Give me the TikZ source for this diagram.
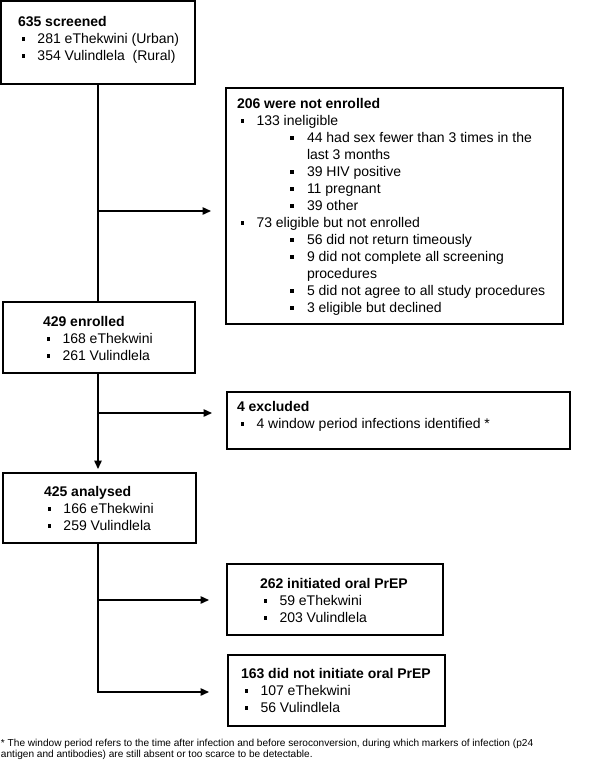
\documentclass[tikz,border=0pt]{standalone}
\usepackage{fontspec}
\setmainfont{Liberation Sans}
\usetikzlibrary{arrows.meta,calc}
\newcommand\bsq{\rule[2.5pt]{3.9pt}{3.9pt}}
\newcommand\la[1]{\hspace*{3.5pt}\makebox[16pt][l]{\bsq}#1}
\newcommand\lb[1]{\hspace*{53pt}\makebox[17pt][l]{\bsq}#1}
\newcommand\lc[1]{\hspace*{70pt}#1}
\newcommand\boxtext[1]{\parbox[t]{340pt}{\fontsize{14}{17}\selectfont\raggedright #1}}
\begin{document}
\begin{tikzpicture}[x=1pt,y=-1pt,
  flowbox/.style={draw=black, line width=1.5pt, inner sep=0pt, outer sep=0pt, anchor=north west},
  txt/.style={inner sep=0pt, outer sep=0pt, anchor=base west},
  conn/.style={line width=1.4pt, black},
  arr/.style={conn, -{Triangle[length=8.5pt,width=7.5pt]}}]
\useasboundingbox (0,0) rectangle (600,769);
% boxes
\node[flowbox, minimum width=194pt, minimum height=83pt] (b1) at (1,1) {};
\node[flowbox, minimum width=337pt, minimum height=236pt] (b2) at (226,88) {};
\node[flowbox, minimum width=192pt, minimum height=71pt] (b3) at (3,302) {};
\node[flowbox, minimum width=343pt, minimum height=57pt] (b4) at (227,392) {};
\node[flowbox, minimum width=193pt, minimum height=70pt] (b5) at (3,473) {};
\node[flowbox, minimum width=216pt, minimum height=71pt] (b6) at (227,564) {};
\node[flowbox, minimum width=217pt, minimum height=71pt] (b7) at (228,655) {};
% texts
\node[txt] (t1) at ($(b1.north west)+(17,25)$) {\boxtext{\textbf{635 screened}\\
  \la{281 eThekwini (Urban)}\\
  \la{354 Vulindlela\ \ (Rural)}}};
\node[txt] (t2) at ($(b2.north west)+(11,20)$) {\boxtext{\textbf{206 were not enrolled}\\
  \la{133 ineligible}\\
  \lb{44 had sex fewer than 3 times in the}\\
  \lc{last 3 months}\\
  \lb{39 HIV positive}\\
  \lb{11 pregnant}\\
  \lb{39 other}\\
  \la{73 eligible but not enrolled}\\
  \lb{56 did not return timeously}\\
  \lb{9 did not complete all screening}\\
  \lc{procedures}\\
  \lb{5 did not agree to all study procedures}\\
  \lb{3 eligible but declined}}};
\node[txt] (t3) at ($(b3.north west)+(40,24)$) {\boxtext{\textbf{429 enrolled}\\
  \la{168 eThekwini}\\
  \la{261 Vulindlela}}};
\node[txt] (t4) at ($(b4.north west)+(10,19)$) {\boxtext{\textbf{4 excluded}\\
  \la{4 window period infections identified *}}};
\node[txt] (t5) at ($(b5.north west)+(41,23)$) {\boxtext{\textbf{425 analysed}\\
  \la{166 eThekwini}\\
  \la{259 Vulindlela}}};
\node[txt] (t6) at ($(b6.north west)+(33,24)$) {\boxtext{\textbf{262 initiated oral PrEP}\\
  \la{59 eThekwini}\\
  \la{203 Vulindlela}}};
\node[txt] (t7) at ($(b7.north west)+(13,23)$) {\boxtext{\textbf{163 did not initiate oral PrEP}\\
  \la{107 eThekwini}\\
  \la{56 Vulindlela}}};
% footnote
\node[txt] (fn) at (1,746) {\parbox[t]{600pt}{\fontsize{10.1}{11.5}\selectfont\raggedright
  * The window period refers to the time after infection and before seroconversion, during which markers of infection (p24\\
  antigen and antibodies) are still absent or too scarce to be detectable.}};
% connectors
\coordinate (sp) at (98,0);
\coordinate (j1) at (98,211);
\coordinate (j2) at (98,413);
\coordinate (j3) at (98,600);
\coordinate (j4) at (98,692);
\draw[conn] (b1.south -| sp) -- (b3.north -| sp);
\draw[arr, shorten >=15pt] (j1) -- (j1 -| b2.west);
\draw[conn] (b3.south -| sp) -- (j2);
\draw[arr, shorten >=4pt] (j2) -- (b5.north -| sp);
\draw[arr, shorten >=15pt] (j2) -- (j2 -| b4.west);
\draw[conn] (b5.south -| sp) -- (j3);
\draw[arr, shorten >=18pt] (j3) -- (j3 -| b6.west);
\draw[arr, shorten >=19pt] (j3) -- (j4) -- (j4 -| b7.west);
\end{tikzpicture}
\end{document}
